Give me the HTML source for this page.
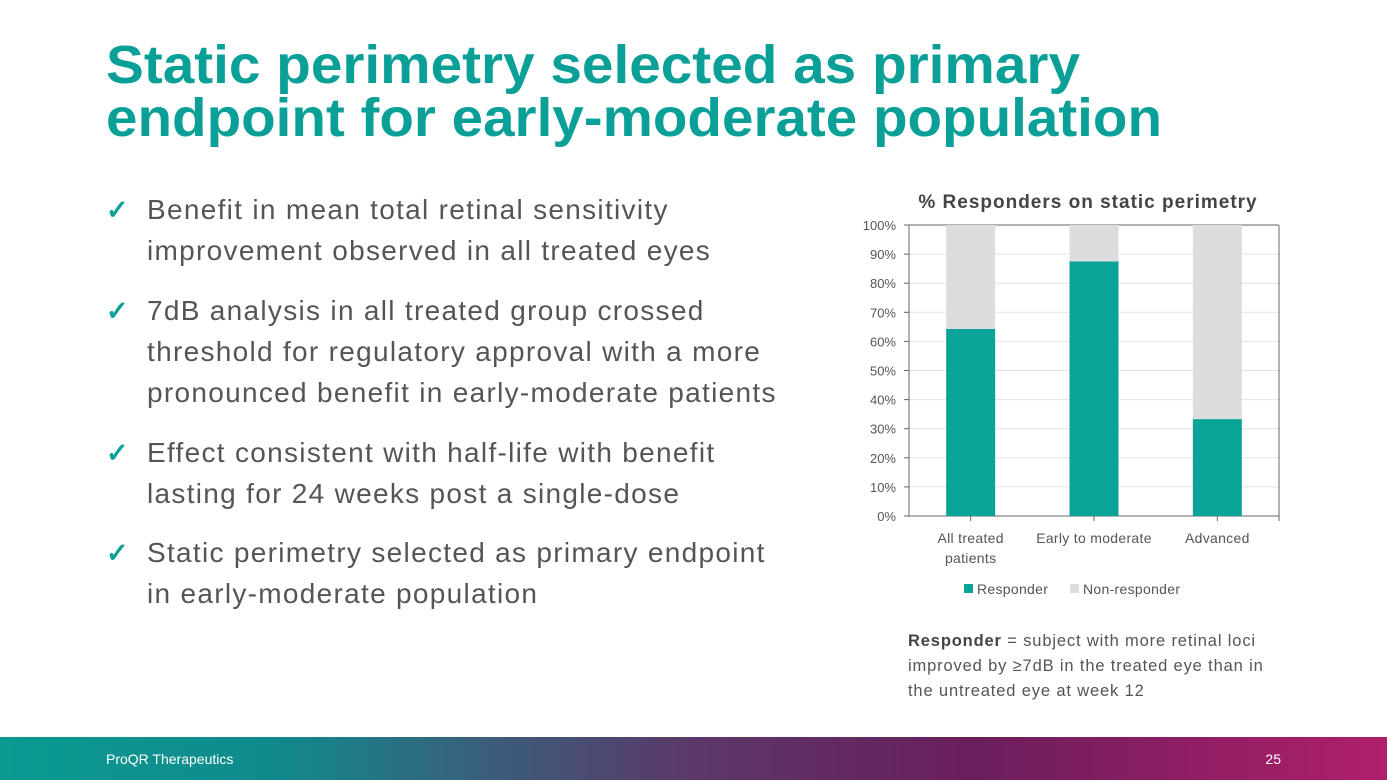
<!DOCTYPE html>
<html><head><meta charset="utf-8"><style>
html,body{margin:0;padding:0;background:#fff;width:1387px;height:780px;overflow:hidden;font-family:"Liberation Sans",sans-serif}
svg{display:block}
</style></head><body>
<svg width="1387" height="780" viewBox="0 0 1387 780" xmlns="http://www.w3.org/2000/svg">
<defs>
<linearGradient id="fg" x1="0" x2="1" y1="0" y2="0">
<stop offset="0" stop-color="#0a9a92"/><stop offset="0.2" stop-color="#108a8c"/>
<stop offset="0.35" stop-color="#3a5e7c"/><stop offset="0.5" stop-color="#5b3868"/>
<stop offset="0.7" stop-color="#6a1e5c"/><stop offset="1" stop-color="#b01f6a"/>
</linearGradient>
</defs>
<g font-family="Liberation Sans, sans-serif" font-weight="bold" fill="#0aa098" font-size="54">
<text x="106" y="83" textLength="974" lengthAdjust="spacingAndGlyphs">Static perimetry selected as primary</text>
<text x="106" y="136" textLength="1056" lengthAdjust="spacingAndGlyphs">endpoint for early-moderate population</text>
</g>
<g font-size="28" fill="#555" letter-spacing="1.3">
<g fill="#0aa098" font-size="27" font-weight="bold" letter-spacing="0"><text x="106" y="219">✓</text><text x="106" y="320">✓</text><text x="106" y="462">✓</text><text x="106" y="562">✓</text></g>
<text x="147" y="219">Benefit in mean total retinal sensitivity</text>
<text x="147" y="260">improvement observed in all treated eyes</text>
<text x="147" y="320">7dB analysis in all treated group crossed</text>
<text x="147" y="361">threshold for regulatory approval with a more</text>
<text x="147" y="402">pronounced benefit in early-moderate patients</text>
<text x="147" y="462">Effect consistent with half-life with benefit</text>
<text x="147" y="503">lasting for 24 weeks post a single-dose</text>
<text x="147" y="562">Static perimetry selected as primary endpoint</text>
<text x="147" y="603">in early-moderate population</text>
</g>
<text x="1088" y="208" text-anchor="middle" font-size="19" font-weight="bold" fill="#444" letter-spacing="1">% Responders on static perimetry</text>
<g id="chart"></g>
<g font-size="14" fill="#555" letter-spacing="0.3">
<rect x="964" y="584" width="9" height="9" fill="#0aa398"/><text x="977" y="594">Responder</text>
<rect x="1070" y="584" width="9" height="9" fill="#dcdddf"/><text x="1083" y="594">Non-responder</text>
</g>
<g font-size="16.5" fill="#555" letter-spacing="0.85">
<text x="908" y="646"><tspan font-weight="bold" fill="#444">Responder</tspan> = subject with more retinal loci</text>
<text x="908" y="671">improved by ≥7dB in the treated eye than in</text>
<text x="908" y="696">the untreated eye at week 12</text>
</g>
<rect x="0" y="737" width="1387" height="43" fill="url(#fg)"/>
<text x="106" y="764" font-size="14" fill="#fff">ProQR Therapeutics</text>
<text x="1281" y="764" font-size="14" fill="#fff" text-anchor="end">25</text>
</svg>
<script>
const categories = ["All treated|patients", "Early to moderate", "Advanced"];
const responder = [64.3, 87.5, 33.3];
const nonResponder = [35.7, 12.5, 66.7];
const yTicks = [0,10,20,30,40,50,60,70,80,90,100];
const NS="http://www.w3.org/2000/svg";
const X0=909,X1=1279,Y0=516,Y1=225;
const band=(X1-X0)/categories.length, barW=49;
const y=v=>Y0-(v/100)*(Y0-Y1);
const xc=i=>X0+band*(i+0.5);
const g=document.getElementById('chart');
function mk(t,a){const e=document.createElementNS(NS,t);for(const k in a)e.setAttribute(k,a[k]);g.appendChild(e);return e;}
yTicks.forEach(t=>{
  const l=mk('line',{x1:X0,x2:X1,y1:y(t),y2:y(t),stroke:t===0?'#666':'#e2e2e2','stroke-width':1});
  
  
  mk('line',{x1:X0-5,x2:X0,y1:y(t),y2:y(t),stroke:'#666'});
  const tx=mk('text',{x:X0-13,y:y(t)+5,'text-anchor':'end','font-size':13,fill:'#555'});
  tx.textContent=t+'%';
  
  
});
mk('line',{x1:X0,x2:X0,y1:Y1,y2:Y0,stroke:'#666'});
mk('line',{x1:X1,x2:X1,y1:Y1,y2:Y0+5,stroke:'#666'});
mk('line',{x1:X0,x2:X1,y1:Y1,y2:Y1,stroke:'#666'});
categories.forEach((c,i)=>{
  const cx=xc(i);
  const r=mk('rect',{x:cx-barW/2,y:y(responder[i]),width:barW,height:Y0-y(responder[i]),fill:'#0aa398'});
  
  
  const top=responder[i]+nonResponder[i];
  const n=mk('rect',{x:cx-barW/2,y:y(top),width:barW,height:y(responder[i])-y(top),fill:'#dcdddf'});
  
  
  mk('line',{x1:cx,x2:cx,y1:Y0,y2:Y0+5,stroke:'#666'});
  c.split('|').forEach((ln,j)=>{
    const t=mk('text',{x:cx,y:543+j*20,'text-anchor':'middle','font-size':14,fill:'#555','letter-spacing':0.3});
    t.textContent=ln;
    
    
  });
});
</script>
</body></html>
